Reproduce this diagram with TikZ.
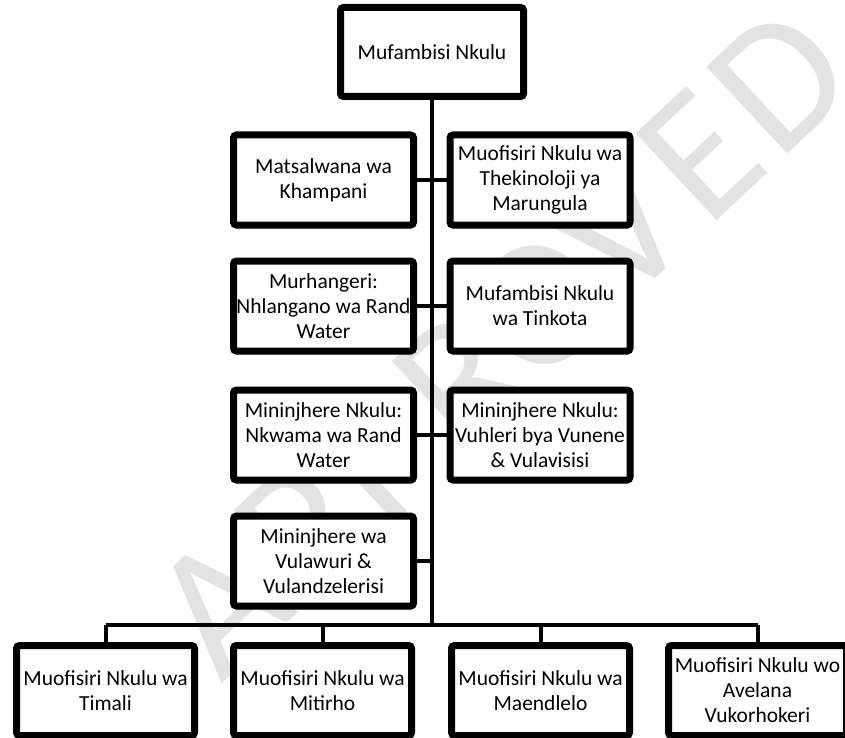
\documentclass[tikz,border=0pt]{standalone}
\usepackage{fontspec}
\setmainfont{Carlito}
\usetikzlibrary{shadows}
\begin{document}
\begin{tikzpicture}[x=1pt,y=-1pt,
                    post/.style={draw, fill=white, line width=7pt, rounded corners=3pt,
                                 minimum width=180pt, minimum height=90pt, inner sep=0pt,
                                 align=center, font=\fontsize{21.5}{25}\selectfont,
                                 drop shadow={shadow xshift=1.5pt, shadow yshift=-4pt, opacity=0.25}},
                    link/.style={line width=4pt},
                    stamp/.style={text=black!11, rotate=43, inner sep=0pt, font=\fontsize{185}{185}\selectfont}]
  \useasboundingbox (0,0) rectangle (845,738);
  \clip (0,0) rectangle (845,738);
  \foreach \c [count=\i] in {A,P,P,R,O,V,E,D}
    \node[stamp] (stamp\i) at ({140+\i*80},{680-\i*75}) {\c};
  \node[post, minimum width=183pt, minimum height=89pt] (nkulu) at (432,52) {Mufambisi Nkulu};
  \node[post] (khampani) at (323.5,180) {Matsalwana wa\\Khampani};
  \node[post] (thekinoloji) at (540,180) {Muofisiri Nkulu wa\\Thekinoloji ya\\Marungula};
  \node[post] (murhangeri) at (323.5,306) {Murhangeri:\\Nhlangano wa Rand\\Water};
  \node[post] (tinkota) at (540,306) {Mufambisi Nkulu\\wa Tinkota};
  \node[post] (nkwama) at (323.5,435) {Mininjhere Nkulu:\\Nkwama wa Rand\\Water};
  \node[post] (vuhleri) at (540,435) {Mininjhere Nkulu:\\Vuhleri bya Vunene\\\& Vulavisisi};
  \node[post] (vulawuri) at (323.5,561) {Mininjhere wa\\Vulawuri \&\\Vulandzelerisi};
  \foreach \n/\x/\t in {timali/105.5/{Muofisiri Nkulu wa\\Timali},
                        mitirho/322.5/{Muofisiri Nkulu wa\\Mitirho},
                        maendlelo/540.5/{Muofisiri Nkulu wa\\Maendlelo},
                        avelana/757.5/{Muofisiri Nkulu wo\\Avelana\\Vukorhokeri}}
    \node[post, minimum width=178pt] (\n) at (\x,690.5) {\t};
  \coordinate (bus) at (432,625);
  \draw[link] (nkulu.south) -- (bus);
  \draw[link] (khampani.east) -- (thekinoloji.west);
  \draw[link] (murhangeri.east) -- (tinkota.west);
  \draw[link] (nkwama.east) -- (vuhleri.west);
  \draw[link] (vulawuri.east) -- (vulawuri.east -| bus);
  \draw[link] (timali.north |- bus) -- (avelana.north |- bus);
  \foreach \n in {timali,mitirho,maendlelo,avelana}
    \draw[link] (\n.north) -- (\n.north |- bus);
\end{tikzpicture}
\end{document}
